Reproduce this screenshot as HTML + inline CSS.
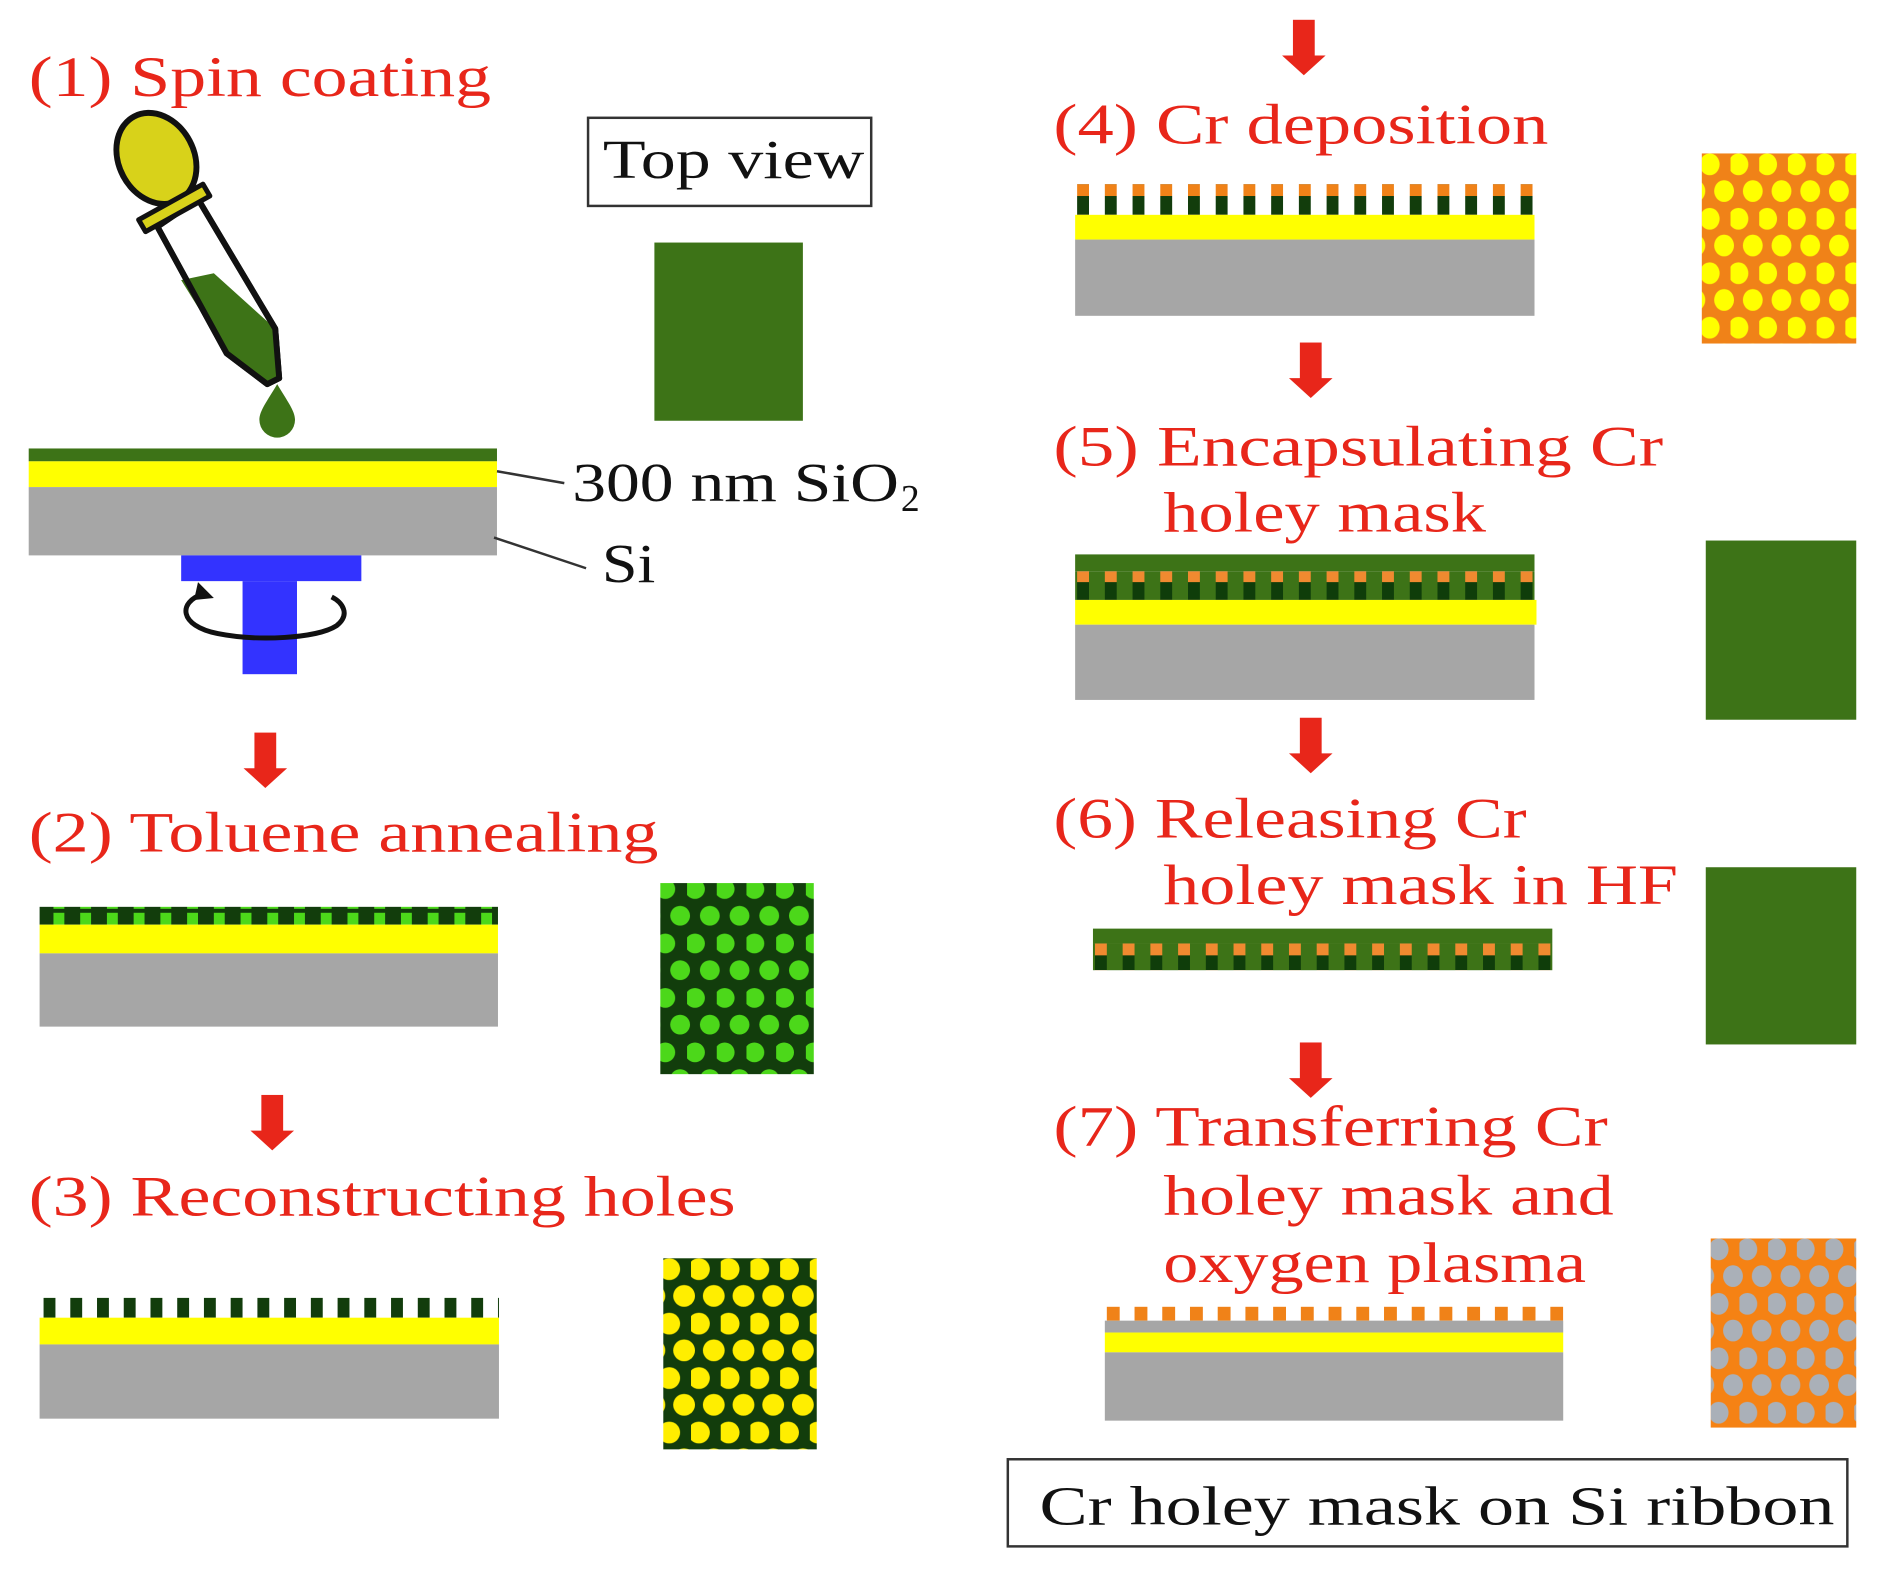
<!DOCTYPE html>
<html><head><meta charset="utf-8"><style>
html,body{margin:0;padding:0;background:#fff;}
svg{display:block;}
.t{font-family:"Liberation Serif",serif;font-size:58px;fill:#e8261a;}
.k{font-family:"Liberation Serif",serif;font-size:56px;fill:#111;}
</style></head><body>
<svg width="1890" height="1571" viewBox="0 0 1890 1571" xmlns="http://www.w3.org/2000/svg">
<defs>
<pattern id="p2" x="664" y="884" width="30" height="55" patternUnits="userSpaceOnUse">
<rect width="30" height="55" fill="#123d0c"/>
<circle cx="8" cy="14" r="10" fill="#4cd81a"/><circle cx="23" cy="41" r="10" fill="#4cd81a"/><circle cx="-7" cy="41" r="10" fill="#4cd81a"/>
</pattern>
<pattern id="p3" x="668" y="1268" width="30" height="55" patternUnits="userSpaceOnUse">
<rect width="30" height="55" fill="#123d0c"/>
<circle cx="8" cy="14" r="11" fill="#ffee00"/><circle cx="23" cy="41" r="11" fill="#ffee00"/><circle cx="-7" cy="41" r="11" fill="#ffee00"/>
</pattern>
<pattern id="p4" x="1719" y="152" width="29" height="55" patternUnits="userSpaceOnUse">
<rect width="29" height="55" fill="#f08218"/>
<ellipse cx="8" cy="14" rx="10" ry="11" fill="#ffff00"/><ellipse cx="22.5" cy="41" rx="10" ry="11" fill="#ffff00"/><ellipse cx="-6.5" cy="41" rx="10" ry="11" fill="#ffff00"/>
</pattern>
<pattern id="p7" x="1728" y="1248" width="29" height="55" patternUnits="userSpaceOnUse">
<rect width="29" height="55" fill="#f58214"/>
<ellipse cx="8" cy="14" rx="10" ry="11" fill="#aab0b8"/><ellipse cx="22.5" cy="41" rx="10" ry="11" fill="#aab0b8"/><ellipse cx="-6.5" cy="41" rx="10" ry="11" fill="#aab0b8"/>
</pattern>
<pattern id="s2" x="40" y="0" width="27" height="20" patternUnits="userSpaceOnUse">
<rect width="27" height="20" fill="#123d0c"/><rect x="14" y="2" width="11" height="16" fill="#4cd81a"/>
</pattern>
<pattern id="s3" x="36" y="0" width="27" height="30" patternUnits="userSpaceOnUse">
<rect width="27" height="30" fill="#fff"/><rect x="8" y="0" width="12" height="30" fill="#123d0c"/>
</pattern>
<pattern id="s4" x="1080" y="186" width="28" height="31" patternUnits="userSpaceOnUse">
<rect width="28" height="31" fill="#fff"/><rect x="8" y="0" width="12" height="12" fill="#f08218"/><rect x="8" y="12" width="12" height="19" fill="#123d0c"/>
</pattern>
<pattern id="s5" x="1080" y="577" width="28" height="29" patternUnits="userSpaceOnUse">
<rect width="28" height="29" fill="#3d7317"/><rect x="8" y="0" width="12" height="11" fill="#f08a30"/><rect x="8" y="11" width="12" height="18" fill="#0f3d0a"/>
</pattern>
<pattern id="s6" x="1098" y="953" width="28" height="27" patternUnits="userSpaceOnUse">
<rect width="28" height="27" fill="#3d7317"/><rect x="8" y="0" width="12" height="12" fill="#f08a30"/><rect x="8" y="12" width="12" height="15" fill="#0f3d0a"/>
</pattern>
<pattern id="s7" x="1110" y="1320" width="28" height="14" patternUnits="userSpaceOnUse">
<rect width="28" height="14" fill="#fff"/><rect x="8" y="0" width="13" height="14" fill="#f08218"/>
</pattern>
<g id="arr"><rect x="-11" y="0" width="22" height="38" fill="#e8261a"/><polygon points="-22,36 22,36 0,56" fill="#e8261a"/></g>
</defs>
<g transform="scale(0.99)">
<!-- (1) -->
<text class="t" x="29" y="97" textLength="467" lengthAdjust="spacingAndGlyphs">(1) Spin coating</text>
<g stroke="#111" stroke-width="6" stroke-linejoin="round">
<polygon points="159,229 200,201 278,332 282,382 270,388 229,357" fill="#fff"/>
<polygon points="183,283 216,276 278,332 282,382 270,388 229,357" fill="#3d7317" stroke="none"/>
<polygon points="159,229 200,201 278,332 282,382 270,388 229,357" fill="none"/>
<ellipse cx="158" cy="160" rx="38" ry="48" transform="rotate(-28 158 160)" fill="#d8d21a"/>
<polygon points="140,222 205,186 212,198 147,234" fill="#d8d21a" stroke-width="5"/>
</g>
<path d="M280,388 C270,405 262,415 262,424 A18,18 0 0 0 298,424 C298,415 290,405 280,388 Z" fill="#3d7317"/>
<rect x="594" y="119" width="286" height="89" fill="#fff" stroke="#333" stroke-width="2.5"/>
<text class="k" x="609" y="180" textLength="264" lengthAdjust="spacingAndGlyphs">Top view</text>
<rect x="661" y="245" width="150" height="180" fill="#3d7317"/>
<rect x="29" y="453" width="473" height="13" fill="#3d7317"/>
<rect x="29" y="466" width="473" height="26" fill="#ffff00"/>
<rect x="29" y="492" width="473" height="69" fill="#a6a6a6"/>
<rect x="183" y="561" width="182" height="26" fill="#3333ff"/>
<rect x="245" y="587" width="55" height="94" fill="#3333ff"/>
<path d="M205,600 C180,608 180,632 220,640 C260,648 320,645 340,632 C355,620 345,608 335,603" fill="none" stroke="#111" stroke-width="5"/>
<polygon points="200,588 216,604 196,606" fill="#111"/>
<line x1="502" y1="476" x2="570" y2="488" stroke="#333" stroke-width="2.5"/>
<line x1="499" y1="543" x2="592" y2="574" stroke="#333" stroke-width="2.5"/>
<text class="k" x="578" y="506" textLength="330" lengthAdjust="spacingAndGlyphs">300 nm SiO</text>
<text class="k" x="910" y="516" style="font-size:38px">2</text>
<text class="k" x="608" y="588" textLength="54" lengthAdjust="spacingAndGlyphs">Si</text>
<use href="#arr" x="268" y="740"/>

<text class="t" x="29" y="860" textLength="636" lengthAdjust="spacingAndGlyphs">(2) Toluene annealing</text>
<rect x="40" y="916" width="463" height="18" fill="url(#s2)"/>
<rect x="40" y="934" width="463" height="29" fill="#ffff00"/>
<rect x="40" y="963" width="463" height="74" fill="#a6a6a6"/>
<rect x="667" y="892" width="155" height="193" fill="url(#p2)"/>
<use href="#arr" x="275" y="1106"/>

<text class="t" x="29" y="1228" textLength="714" lengthAdjust="spacingAndGlyphs">(3) Reconstructing holes</text>
<rect x="40" y="1311" width="464" height="20" fill="url(#s3)"/>
<rect x="40" y="1331" width="464" height="27" fill="#ffff00"/>
<rect x="40" y="1358" width="464" height="75" fill="#a6a6a6"/>
<rect x="670" y="1271" width="155" height="193" fill="url(#p3)"/>

<use href="#arr" x="1317" y="20"/>
<text class="t" x="1064" y="145" textLength="500" lengthAdjust="spacingAndGlyphs">(4) Cr deposition</text>
<rect x="1086" y="186" width="464" height="31" fill="url(#s4)"/>
<rect x="1086" y="217" width="464" height="25" fill="#ffff00"/>
<rect x="1086" y="242" width="464" height="77" fill="#a6a6a6"/>
<rect x="1719" y="155" width="156" height="192" fill="url(#p4)"/>
<use href="#arr" x="1324" y="346"/>

<text class="t" x="1064" y="470" textLength="616" lengthAdjust="spacingAndGlyphs">(5) Encapsulating Cr</text>
<text class="t" x="1175" y="537" textLength="326" lengthAdjust="spacingAndGlyphs">holey mask</text>
<rect x="1086" y="560" width="464" height="17" fill="#3d7317"/>
<rect x="1086" y="577" width="464" height="29" fill="url(#s5)"/>
<rect x="1086" y="606" width="466" height="25" fill="#ffff00"/>
<rect x="1086" y="631" width="464" height="76" fill="#a6a6a6"/>
<rect x="1723" y="546" width="152" height="181" fill="#3d7317"/>
<use href="#arr" x="1324" y="725"/>

<text class="t" x="1064" y="846" textLength="478" lengthAdjust="spacingAndGlyphs">(6) Releasing Cr</text>
<text class="t" x="1175" y="913" textLength="520" lengthAdjust="spacingAndGlyphs">holey mask in HF</text>
<rect x="1104" y="938" width="464" height="15" fill="#3d7317"/>
<rect x="1104" y="953" width="464" height="27" fill="url(#s6)"/>
<rect x="1723" y="876" width="152" height="179" fill="#3d7317"/>
<use href="#arr" x="1324" y="1053"/>

<text class="t" x="1064" y="1157" textLength="560" lengthAdjust="spacingAndGlyphs">(7) Transferring Cr</text>
<text class="t" x="1175" y="1227" textLength="455" lengthAdjust="spacingAndGlyphs">holey mask and</text>
<text class="t" x="1175" y="1295" textLength="427" lengthAdjust="spacingAndGlyphs">oxygen plasma</text>
<rect x="1116" y="1320" width="463" height="14" fill="url(#s7)"/>
<rect x="1116" y="1334" width="463" height="12" fill="#a6a6a6"/>
<rect x="1116" y="1346" width="463" height="20" fill="#ffff00"/>
<rect x="1116" y="1366" width="463" height="69" fill="#a6a6a6"/>
<rect x="1728" y="1251" width="147" height="191" fill="url(#p7)"/>

<rect x="1018" y="1474" width="848" height="88" fill="#fff" stroke="#333" stroke-width="2.5"/>
<text class="k" x="1050" y="1540" textLength="803" lengthAdjust="spacingAndGlyphs">Cr holey mask on Si ribbon</text>
</g>
</svg>
</body></html>
